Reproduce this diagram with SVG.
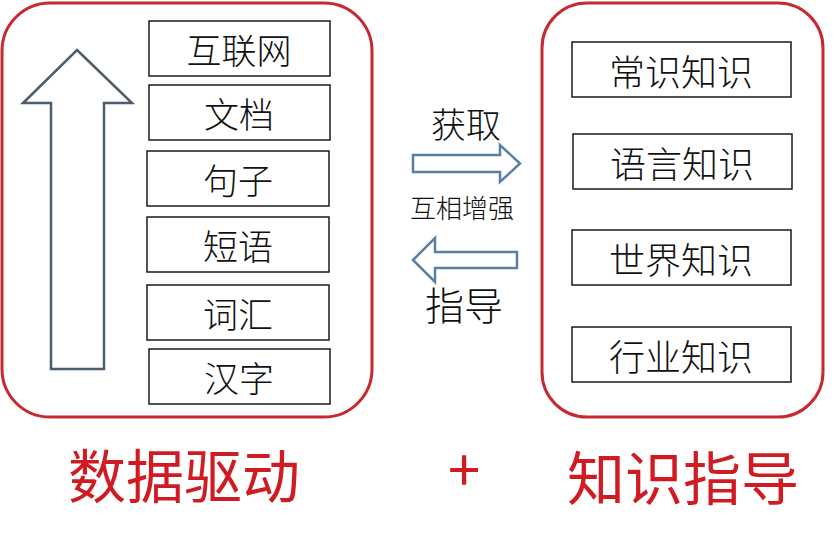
<svg xmlns="http://www.w3.org/2000/svg" width="836" height="546" viewBox="0 0 836 546">
<style>
.frame{fill:none;stroke:#c62a2f;stroke-width:3}
.box{fill:#fff;stroke:#1a1a1a;stroke-width:1.5}
.t{font-family:"Noto Sans CJK SC","Noto Sans",sans-serif;fill:#111;text-anchor:middle;dominant-baseline:central;font-weight:300}
.lt{font-size:35px}
.rt{font-size:36px}
.big{font-family:"Noto Sans CJK SC","Noto Sans",sans-serif;fill:#d01b22;text-anchor:middle;dominant-baseline:central;font-size:58px}
.arr{fill:#fff;stroke:#5b7f9f;stroke-width:2.5}
</style>
<rect width="836" height="546" fill="#fff"/>
<g id="left-frame"><rect class="frame" x="2" y="3" width="370" height="414" rx="48"/></g>
<g id="right-frame"><rect class="frame" x="542" y="3" width="281" height="414" rx="45"/></g>
<g id="connectors">
<path d="M77 50 L132 103 L104 103 L104 369 L51 369 L51 103 L23 103 Z" fill="#fff" stroke="#4d5d6d" stroke-width="2.5" stroke-linejoin="miter"/>
<path class="arr" d="M413 155 L500 155 L500 145 L520 163.5 L500 182 L500 172 L413 172 Z"/>
<path class="arr" d="M517 252 L435 252 L435 238 L413 260 L435 282 L435 268 L517 268 Z"/>
</g>
<g id="n-hulianwang"><rect class="box" x="149" y="21" width="181" height="55"/><text class="t lt" x="239" y="48.5">互联网</text></g>
<g id="n-wendang"><rect class="box" x="149" y="85" width="181" height="55"/><text class="t lt" x="239" y="112.5">文档</text></g>
<g id="n-juzi"><rect class="box" x="147" y="151" width="182" height="55"/><text class="t lt" x="238" y="178.5">句子</text></g>
<g id="n-duanyu"><rect class="box" x="147" y="217" width="182" height="55"/><text class="t lt" x="238" y="244.5">短语</text></g>
<g id="n-cihui"><rect class="box" x="147" y="285" width="182" height="55"/><text class="t lt" x="238" y="312.5">词汇</text></g>
<g id="n-hanzi"><rect class="box" x="149" y="349" width="181" height="55"/><text class="t lt" x="239" y="376.5">汉字</text></g>
<g id="n-changshi"><rect class="box" x="572" y="42" width="219" height="55"/><text class="t rt" x="681" y="69.5">常识知识</text></g>
<g id="n-yuyan"><rect class="box" x="573" y="134" width="219" height="55"/><text class="t rt" x="682" y="161.5">语言知识</text></g>
<g id="n-shijie"><rect class="box" x="572" y="230" width="219" height="55"/><text class="t rt" x="681" y="257.5">世界知识</text></g>
<g id="n-hangye"><rect class="box" x="572" y="327" width="219" height="55"/><text class="t rt" x="681" y="354.5">行业知识</text></g>
<g id="labels">
<text class="t" x="466" y="122" font-size="35">获取</text>
<text class="t" x="462" y="206" font-size="26">互相增强</text>
<text class="t" x="464" y="303" font-size="39">指导</text>
<text class="big" x="184" y="473">数据驱动</text>
<text class="big" x="464" y="466" font-size="40">+</text>
<text class="big" x="683" y="475">知识指导</text>
</g>
</svg>
